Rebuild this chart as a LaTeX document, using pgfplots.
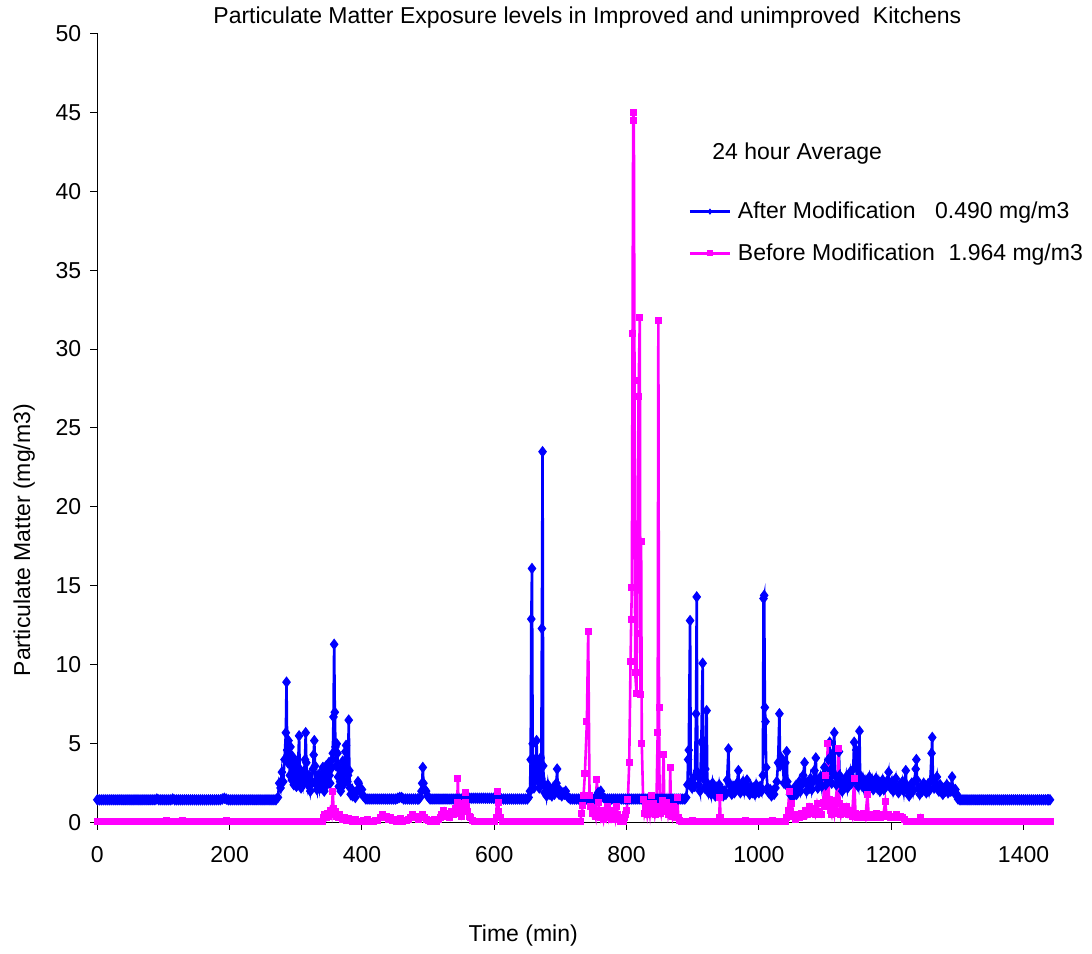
\documentclass[border=0pt]{standalone}
\usepackage{fontspec}
\setmainfont{Liberation Sans}
\usepackage{pgfplots}
\pgfplotsset{compat=1.18}
\usetikzlibrary{calc}
\definecolor{ablue}{RGB}{0,0,255}
\definecolor{bpink}{RGB}{255,0,255}
\begin{document}
\begin{tikzpicture}[font=\fontsize{11.5}{13.8}\selectfont]
\begin{axis}[name=ax, scale only axis, width=476.35pt, height=394.7pt,
 xmin=0, xmax=1440, ymin=0, ymax=50,
 axis lines=left, axis line style={-, black, line width=0.5pt},
 xtick={0,200,...,1400}, ytick={0,5,...,50},
 tick align=outside, major tick length=3.5pt, tick style={black, line width=0.5pt},
 /pgf/number format/assume math mode=true, /pgf/number format/1000 sep={},
 xticklabel style={yshift=-5pt}, yticklabel style={xshift=-1pt},
 clip=false,
 legend style={draw=none, fill=none, inner sep=0pt, at={(0.6203,0.7477)}, anchor=west,
   row sep=11pt, column sep=3.35pt, nodes={inner sep=0pt}},
 legend cell align=left,
 legend image code/.code={\draw[mark repeat=2,mark phase=2,mark size=1.2pt] plot coordinates {(0pt,0pt)(10pt,0pt)(20pt,0pt)};},
]
\addplot[ablue, line width=1.3pt, mark=diamond*, mark size=2.5pt, mark options={solid, fill=ablue, line width=0.5pt}] coordinates {
(0,1.45)(3,1.45)(6,1.45)(9,1.45)(12,1.45)(15,1.45)(18,1.45)(21,1.45)(24,1.45)(27,1.45)(30,1.45)(33,1.45)(36,1.45)(39,1.45)(42,1.45)(45,1.45)(48,1.45)(51,1.45)(54,1.45)(57,1.45)(60,1.45)(63,1.45)(66,1.45)(69,1.45)(72,1.45)(75,1.45)(78,1.45)(81,1.45)(84,1.45)(87,1.45)(90,1.5)(93,1.45)(96,1.45)(99,1.45)(102,1.45)(105,1.45)(108,1.45)(111,1.45)(114,1.5)(117,1.45)(120,1.45)(123,1.45)(126,1.45)(129,1.45)(132,1.45)(135,1.45)(138,1.45)(141,1.45)(144,1.45)(147,1.45)(150,1.45)(153,1.45)(156,1.45)(159,1.45)(162,1.45)(165,1.45)(168,1.45)(171,1.45)(174,1.45)(177,1.45)(180,1.45)(183,1.45)(186,1.45)(189,1.5)(192,1.55)(195,1.5)(198,1.45)(201,1.45)(204,1.45)(207,1.45)(210,1.45)(213,1.45)(216,1.45)(219,1.45)(222,1.45)(225,1.45)(228,1.45)(231,1.45)(234,1.45)(237,1.45)(240,1.45)(243,1.45)(246,1.45)(249,1.45)(252,1.45)(255,1.45)(258,1.45)(261,1.45)(264,1.45)(267,1.45)(270,1.45)
(273,1.6)(275,2.5)(277,2.2)(279,3.2)(281,2.6)(283,4.0)(285,5.7)(286,8.9)(287,4.6)(288,3.8)(289,5.2)(290,4.1)(291,3.0)(292,4.8)(293,3.6)(294,2.7)(295,4.2)(296,3.1)(297,2.4)(298,3.5)(299,2.8)(301,2.3)(302,3.9)(303,3.0)(305,5.5)(306,3.4)(307,2.6)(308,2.2)(309,3.1)(311,2.5)(312,2.9)(314,4.0)(315,5.7)(316,3.8)(317,2.8)(318,2.4)(320,3.0)(321,2.3)(322,2.0)(324,2.6)(326,3.4)(327,4.3)(328,5.2)(329,3.6)(330,2.5)(332,2.1)(333,2.8)(335,2.3)(336,3.1)(338,2.2)(339,2.7)(341,3.5)(342,2.6)(343,2.0)(345,2.9)(346,3.6)(347,2.4)(349,3.2)(350,3.8)(351,3.0)(352,2.5)(353,3.4)(355,4.0)(356,4.4)(357,6.7)(358,11.3)(359,7.0)(360,4.8)(361,3.6)(362,5.0)(363,4.4)(364,2.9)(365,2.3)(366,3.5)(367,2.6)(368,2.0)(370,2.8)(371,3.9)(372,2.4)(374,3.2)(375,4.5)(376,4.9)(377,3.4)(378,2.6)(379,3.0)(380,6.5)(381,3.3)(382,2.2)(383,1.8)(385,2.1)(386,1.7)(388,1.9)(390,1.6)(392,2.0)(394,2.6)(395,2.5)(396,2.2)(398,1.9)(400,2.1)(402,1.7)(404,1.6)(406,1.5)
(409,1.5)(412,1.5)(415,1.5)(418,1.5)(421,1.5)(424,1.5)(427,1.5)(430,1.5)(433,1.5)(436,1.5)(439,1.5)(442,1.5)(445,1.5)(448,1.5)(451,1.5)(454,1.55)(457,1.6)(460,1.6)(463,1.5)(466,1.5)(469,1.5)(472,1.5)(475,1.5)(478,1.5)(481,1.5)(484,1.5)(486,1.5)
(488,1.6)(490,2.0)(491,2.5)(492,3.5)(493,2.5)(495,2.1)(497,2.0)(499,1.7)(501,1.6)(503,1.5)
(506,1.5)(509,1.5)(512,1.5)(515,1.5)(518,1.5)(521,1.5)(524,1.5)(527,1.5)(530,1.5)(533,1.5)(536,1.5)(539,1.5)(542,1.5)(545,1.5)(548,1.5)(551,1.5)(554,1.5)(557,1.5)(560,1.55)(563,1.55)(566,1.55)(569,1.55)(572,1.55)(575,1.55)(578,1.55)(581,1.55)(584,1.55)(587,1.55)(590,1.55)(593,1.55)(596,1.55)(599,1.55)(602,1.5)(605,1.5)(608,1.5)(611,1.5)(614,1.5)(617,1.5)(620,1.5)(623,1.5)(626,1.5)(629,1.5)(632,1.5)(635,1.5)(638,1.5)(641,1.5)(644,1.5)(647,1.5)(650,1.5)
(652,1.6)(654,2.0)(655,4.0)(656,12.9)(657,16.1)(658,5.0)(659,2.5)(660,2.2)(661,3.1)(662,4.0)(663,3.3)(664,5.2)(665,2.8)(666,3.6)(667,2.6)(668,2.2)(669,3.0)(670,4.1)(671,2.8)(672,12.3)(673,23.5)(674,3.6)(675,2.4)(676,1.9)(677,2.3)(679,1.7)(681,2.4)(683,1.8)(685,2.0)(687,1.7)(689,2.2)(691,1.8)(693,2.1)(694,2.5)(695,3.4)(696,2.2)(698,1.8)(700,2.0)(702,1.7)(704,1.9)(706,1.8)(708,2.0)(710,1.7)(712,1.6)(715,1.5)
(718,1.5)(721,1.5)(724,1.5)(727,1.5)(730,1.5)(733,1.5)(736,1.5)(739,1.5)(742,1.5)(745,1.5)(748,1.5)(751,1.5)(753,1.6)(755,1.7)(757,1.9)(759,1.8)(761,2.0)(763,1.7)(765,1.6)(768,1.5)(771,1.5)(774,1.5)(777,1.5)(780,1.5)(783,1.5)(786,1.5)(789,1.5)(792,1.5)(795,1.5)(798,1.5)(801,1.5)(804,1.5)(807,1.5)(810,1.5)(813,1.5)(816,1.5)(819,1.5)(822,1.5)(825,1.5)(828,1.5)(831,1.5)(834,1.5)(837,1.5)(840,1.5)(843,1.5)(846,1.5)(849,1.5)(852,1.5)(855,1.5)(858,1.5)(861,1.5)(864,1.5)(867,1.5)(870,1.5)(873,1.5)(876,1.5)(879,1.5)(882,1.5)(885,1.5)(888,1.5)(890,1.6)
(892,2.4)(893,4.0)(894,4.6)(896,12.8)(897,2.5)(899,2.2)(901,2.8)(903,2.3)(905,6.9)(906,14.3)(907,3.2)(909,2.4)(911,2.0)(913,5.1)(915,10.1)(916,2.8)(918,2.2)(919,3.4)(921,7.1)(922,2.5)(924,1.9)(926,2.3)(928,1.8)(930,2.5)(932,2.0)(934,1.7)(936,2.2)(938,1.8)(940,2.4)(942,1.9)(944,2.1)(946,1.7)(948,2.0)(950,1.8)(952,2.7)(954,4.67)(955,2.5)(957,2.0)(959,1.8)(961,2.3)(963,1.9)(965,2.1)(967,2.5)(969,3.3)(970,2.3)(972,1.9)(974,2.2)(976,2.6)(978,2.0)(980,2.5)(982,2.7)(984,2.1)(986,1.8)(988,2.3)(990,1.9)(992,2.2)(994,1.8)(996,2.4)(998,2.0)(1000,1.9)(1002,2.3)(1004,2.0)(1006,3.0)(1007,14.2)(1008,14.4)(1009,7.3)(1010,6.4)(1011,3.5)(1013,2.2)(1015,1.9)(1017,2.1)(1019,1.7)(1021,2.0)(1023,1.8)(1025,2.2)(1027,2.6)(1029,3.8)(1031,6.9)(1032,3.6)(1034,4.1)(1036,3.7)(1038,2.5)(1040,3.8)(1042,4.5)(1043,2.6)(1045,2.2)(1047,1.8)(1049,2.0)(1051,1.6)(1053,1.9)(1055,2.3)(1057,1.8)(1059,2.1)(1061,2.6)(1063,2.0)(1065,2.4)(1067,3.0)(1069,3.8)(1070,2.6)(1072,2.0)(1074,2.5)(1076,2.2)(1078,2.8)(1080,2.1)(1082,2.6)(1084,3.3)(1086,4.1)(1087,2.7)(1089,2.2)(1091,2.5)(1093,2.9)(1095,2.3)(1097,3.0)(1099,3.5)(1101,2.4)(1103,2.8)(1105,4.0)(1107,5.1)(1108,3.3)(1110,2.5)(1112,4.4)(1114,5.7)(1115,3.0)(1117,2.4)(1119,2.8)(1121,4.5)(1122,3.0)(1124,2.4)(1126,2.0)(1128,2.6)(1130,2.3)(1132,2.9)(1134,2.2)(1136,2.7)(1138,3.2)(1140,2.5)(1142,2.8)(1144,5.1)(1145,3.5)(1147,4.6)(1148,2.6)(1150,2.3)(1152,5.8)(1153,3.0)(1155,2.4)(1157,2.8)(1159,2.2)(1161,2.6)(1163,2.0)(1165,2.5)(1167,2.9)(1169,2.3)(1171,2.7)(1173,2.1)(1175,2.4)(1177,2.8)(1179,2.2)(1181,2.6)(1183,2.0)(1185,2.3)(1187,2.7)(1189,2.1)(1191,2.4)(1193,2.6)(1196,3.2)(1197,2.5)(1199,2.2)(1201,2.6)(1203,2.0)(1205,2.4)(1207,2.8)(1209,2.1)(1211,1.9)(1213,2.4)(1215,2.2)(1217,2.6)(1219,2.0)(1222,3.3)(1223,2.4)(1225,2.0)(1227,1.7)(1229,2.2)(1231,2.5)(1233,2.0)(1235,2.6)(1237,3.4)(1238,4.0)(1239,2.7)(1241,2.2)(1243,1.8)(1245,2.3)(1247,2.0)(1249,2.5)(1251,2.2)(1253,1.9)(1255,2.4)(1257,2.0)(1259,2.6)(1261,4.4)(1262,5.4)(1263,2.8)(1265,2.2)(1267,2.5)(1269,2.9)(1270,2.3)(1272,2.0)(1274,2.4)(1276,2.1)(1278,1.8)(1280,2.2)(1282,2.0)(1284,2.4)(1286,1.9)(1288,2.2)(1290,2.0)(1292,2.9)(1293,2.2)(1295,1.9)(1297,2.1)(1299,1.8)(1301,1.5)
(1304,1.45)(1307,1.45)(1310,1.45)(1313,1.45)(1316,1.45)(1319,1.45)(1322,1.45)(1325,1.45)(1328,1.45)(1331,1.45)(1334,1.45)(1337,1.45)(1340,1.45)(1343,1.45)(1346,1.45)(1349,1.45)(1352,1.45)(1355,1.45)(1358,1.45)(1361,1.45)(1364,1.45)(1367,1.45)(1370,1.45)(1373,1.45)(1376,1.45)(1379,1.45)(1382,1.45)(1385,1.45)(1388,1.45)(1391,1.45)(1394,1.45)(1397,1.45)(1400,1.45)(1403,1.45)(1406,1.45)(1409,1.45)(1412,1.45)(1415,1.45)(1418,1.45)(1421,1.45)(1424,1.45)(1427,1.45)(1430,1.45)(1433,1.45)(1436,1.45)(1438,1.45)(1440,1.45)
};
\addlegendentry{After Modification\hspace{0.85em}0.490 mg/m3}
\addplot[bpink, line width=1.3pt, mark=square*, mark size=1.5pt, mark options={solid, fill=bpink, line width=0.5pt}] coordinates {
(0,0.05)(3,0.05)(6,0.05)(9,0.05)(12,0.05)(15,0.05)(18,0.05)(21,0.05)(24,0.05)(27,0.05)(30,0.05)(33,0.05)(36,0.05)(39,0.05)(42,0.05)(45,0.05)(48,0.05)(51,0.05)(54,0.05)(57,0.05)(60,0.05)(63,0.05)(66,0.05)(69,0.05)(72,0.05)(75,0.05)(78,0.05)(81,0.05)(84,0.05)(87,0.05)(90,0.05)(93,0.05)(96,0.05)(99,0.05)(102,0.05)(105,0.15)(108,0.05)(111,0.05)(114,0.05)(117,0.05)(120,0.05)(123,0.05)(126,0.05)(129,0.12)(132,0.05)(135,0.05)(138,0.05)(141,0.05)(144,0.05)(147,0.05)(150,0.05)(153,0.05)(156,0.05)(159,0.05)(162,0.05)(165,0.05)(168,0.05)(171,0.05)(174,0.05)(177,0.05)(180,0.05)(183,0.05)(186,0.05)(189,0.05)(192,0.05)(195,0.15)(198,0.05)(201,0.05)(204,0.05)(207,0.05)(210,0.05)(213,0.05)(216,0.05)(219,0.05)(222,0.05)(225,0.05)(228,0.05)(231,0.05)(234,0.1)(237,0.05)(240,0.05)(243,0.05)(246,0.05)(249,0.05)(252,0.05)(255,0.05)(258,0.05)(261,0.05)(264,0.05)(267,0.05)(270,0.05)(273,0.05)(276,0.05)(279,0.05)(282,0.05)(285,0.1)(288,0.05)(291,0.05)(294,0.05)(297,0.05)(300,0.05)(303,0.05)(306,0.05)(309,0.05)(312,0.05)(315,0.05)(318,0.05)(321,0.05)(324,0.05)(327,0.05)(330,0.05)(333,0.05)(336,0.05)(338,0.05)
(340,0.1)(342,0.3)(344,0.5)(346,0.3)(348,0.6)(350,0.4)(352,0.8)(354,0.5)(356,2.0)(357,0.9)(358,0.6)(360,0.7)(362,0.4)(364,0.3)(366,0.5)(368,0.3)(370,0.2)(373,0.3)(376,0.15)(379,0.25)(382,0.15)(385,0.1)(388,0.1)(391,0.2)(394,0.1)(397,0.1)(400,0.1)(403,0.15)(406,0.1)(409,0.2)(412,0.1)(415,0.1)(418,0.1)(421,0.15)(424,0.15)(428,0.3)(431,0.5)(434,0.3)(437,0.4)(440,0.2)(443,0.3)(446,0.15)(449,0.2)(452,0.1)(455,0.1)(458,0.25)(461,0.1)(464,0.15)(467,0.15)(470,0.2)(474,0.35)(477,0.5)(480,0.3)(483,0.4)(486,0.2)(489,0.3)(492,0.5)(495,0.3)(498,0.2)(501,0.15)(504,0.1)(507,0.1)(510,0.2)(513,0.1)(516,0.2)(518,0.3)(521,0.5)(524,0.8)(527,0.4)(530,0.6)(533,0.3)(536,0.7)(539,0.5)(542,0.9)(544,1.3)(545,2.8)(546,1.0)(548,0.6)(550,0.4)(552,0.8)(554,1.2)(556,1.9)(557,1.3)(558,1.0)(560,0.7)(562,0.4)(564,0.3)(567,0.15)(570,0.1)(573,0.05)(576,0.05)(579,0.1)(582,0.05)(585,0.05)(588,0.05)(591,0.05)(594,0.1)(597,0.1)(600,0.1)(603,0.3)(605,2.0)(606,1.3)(607,0.7)(609,0.3)(612,0.1)
(615,0.05)(618,0.05)(621,0.05)(624,0.05)(627,0.05)(630,0.05)(633,0.05)(636,0.05)(639,0.05)(642,0.05)(645,0.05)(648,0.05)(651,0.05)(654,0.05)(657,0.05)(660,0.05)(663,0.05)(666,0.05)(669,0.05)(672,0.05)(675,0.05)(678,0.05)(681,0.05)(684,0.05)(687,0.05)(690,0.05)(693,0.05)(696,0.05)(699,0.05)(702,0.05)(705,0.05)(708,0.05)(711,0.05)(714,0.05)(717,0.05)(720,0.05)(723,0.05)(726,0.05)(728,0.05)
(730,0.1)(732,0.6)(734,1.1)(735,1.75)(737,3.1)(740,6.4)(742,12.1)(744,1.75)(746,1.0)(748,0.6)(750,0.9)(753,0.4)(755,2.75)(757,1.3)(759,0.8)(761,0.3)(763,0.6)(765,0.2)(767,0.8)(769,0.4)(771,1.0)(773,0.3)(775,0.6)(777,0.2)(779,0.4)(781,0.8)(783,0.3)(785,1.0)(787,0.5)(789,0.2)(791,0.1)(793,0.15)(795,0.1)(797,0.3)(799,0.5)
(800,0.8)(802,1.5)(804,3.8)(806,10.2)(807,12.9)(808,14.9)(809,31.0)(810,45.0)(811,44.5)(812,28.0)(813,9.5)(815,8.2)(816,12.0)(818,27.0)(820,32.0)(821,8.1)(822,17.8)(823,5.0)(825,1.5)(827,0.6)(829,1.0)(831,0.5)(833,1.2)(835,0.6)(837,1.75)(839,0.8)(841,1.2)(843,0.5)(845,0.9)(847,5.7)(848,31.8)(849,7.3)(850,1.0)(852,0.6)(854,1.4)(856,4.3)(857,1.0)(859,0.7)(861,1.3)(863,0.5)(865,0.9)(866,3.5)(867,0.8)(869,0.4)(871,1.0)(873,0.5)(875,0.3)(877,1.6)(878,0.3)(880,0.15)
(883,0.05)(886,0.05)(889,0.05)(892,0.05)(895,0.05)(898,0.05)(900,0.15)(903,0.05)(906,0.05)(909,0.05)(912,0.05)(915,0.05)(918,0.05)(920,0.1)(923,0.05)(926,0.05)(929,0.05)(932,0.05)(935,0.05)(938,0.05)(940,0.3)(941,1.6)(942,0.3)(945,0.05)(948,0.05)(951,0.05)(954,0.05)(957,0.05)(960,0.1)(963,0.05)(966,0.05)(969,0.05)(972,0.05)(975,0.05)(978,0.05)(980,0.15)(983,0.05)(986,0.05)(989,0.05)(992,0.05)(995,0.05)(998,0.05)(1000,0.1)(1003,0.05)(1006,0.05)(1009,0.05)(1012,0.05)(1015,0.05)(1018,0.05)(1020,0.15)(1023,0.05)(1026,0.05)(1029,0.05)(1032,0.05)(1035,0.05)(1038,0.05)(1040,0.05)
(1042,0.3)(1044,0.8)(1046,2.0)(1048,0.6)(1050,1.2)(1052,0.4)(1055,0.2)(1058,0.5)(1061,0.3)(1064,0.6)(1067,0.4)(1070,0.8)(1073,0.5)(1076,1.0)(1079,0.6)(1082,0.9)(1085,0.5)(1088,1.2)(1091,0.7)(1094,0.5)(1097,1.3)(1100,3.0)(1102,1.0)(1104,5.0)(1106,1.5)(1108,0.8)(1110,0.5)(1112,1.1)(1114,0.6)(1116,1.4)(1118,0.7)(1120,4.7)(1122,1.2)(1124,0.5)(1126,0.9)(1129,0.6)(1132,1.0)(1135,0.5)(1138,0.8)(1141,0.4)(1144,2.8)(1146,0.6)(1149,0.3)(1152,0.5)(1155,0.3)(1158,0.6)(1161,0.3)(1164,1.8)(1166,0.4)(1169,0.3)(1172,0.5)(1175,0.3)(1178,0.6)(1181,0.4)(1184,0.3)(1188,0.5)(1191,1.33)(1193,0.4)(1196,0.5)(1199,0.3)(1202,0.4)(1205,0.3)(1208,0.5)(1211,0.3)(1214,0.4)(1217,0.3)(1220,0.2)(1223,0.1)(1226,0.1)(1229,0.1)(1232,0.05)(1235,0.05)(1238,0.05)(1241,0.05)(1244,0.1)(1245,0.3)(1247,0.05)
(1250,0.05)(1253,0.05)(1256,0.05)(1259,0.05)(1262,0.05)(1265,0.05)(1268,0.05)(1271,0.05)(1274,0.05)(1277,0.05)(1280,0.05)(1283,0.05)(1286,0.05)(1289,0.05)(1292,0.05)(1295,0.05)(1298,0.05)(1301,0.05)(1304,0.05)(1307,0.05)(1310,0.05)(1313,0.05)(1316,0.05)(1319,0.05)(1322,0.05)(1325,0.05)(1328,0.05)(1331,0.05)(1334,0.05)(1337,0.05)(1340,0.05)(1343,0.05)(1346,0.05)(1349,0.05)(1352,0.05)(1355,0.05)(1358,0.05)(1361,0.05)(1364,0.05)(1367,0.05)(1370,0.05)(1373,0.05)(1376,0.05)(1379,0.05)(1382,0.05)(1385,0.05)(1388,0.05)(1391,0.05)(1394,0.05)(1397,0.05)(1400,0.05)(1403,0.05)(1406,0.05)(1409,0.05)(1412,0.05)(1415,0.05)(1418,0.05)(1421,0.05)(1424,0.05)(1427,0.05)(1430,0.05)(1433,0.05)(1436,0.05)(1438,0.05)(1440,0.05)
};
\addlegendentry{Before Modification\hspace{0.6em}1.964 mg/m3}
\node[anchor=base west, inner sep=0pt] at (axis cs:174.9,50.65) {Particulate Matter Exposure levels in Improved and unimproved~ Kitchens};
\node[anchor=base west, inner sep=0pt] at (axis cs:560.8,-7.54) {Time (min)};
\node[anchor=base west, inner sep=0pt, rotate=90] at (axis cs:-101.7,9.25) {Particulate Matter (mg/m3)};
\node[anchor=base west, inner sep=0pt] at (axis cs:929,42.03) {24 hour Average};
\end{axis}
\pgfresetboundingbox
\path[use as bounding box] ($(ax.south west)+(-48.65pt,-65.15pt)$) rectangle ($(ax.north east)+(21pt,16.65pt)$);
\end{tikzpicture}
\end{document}
